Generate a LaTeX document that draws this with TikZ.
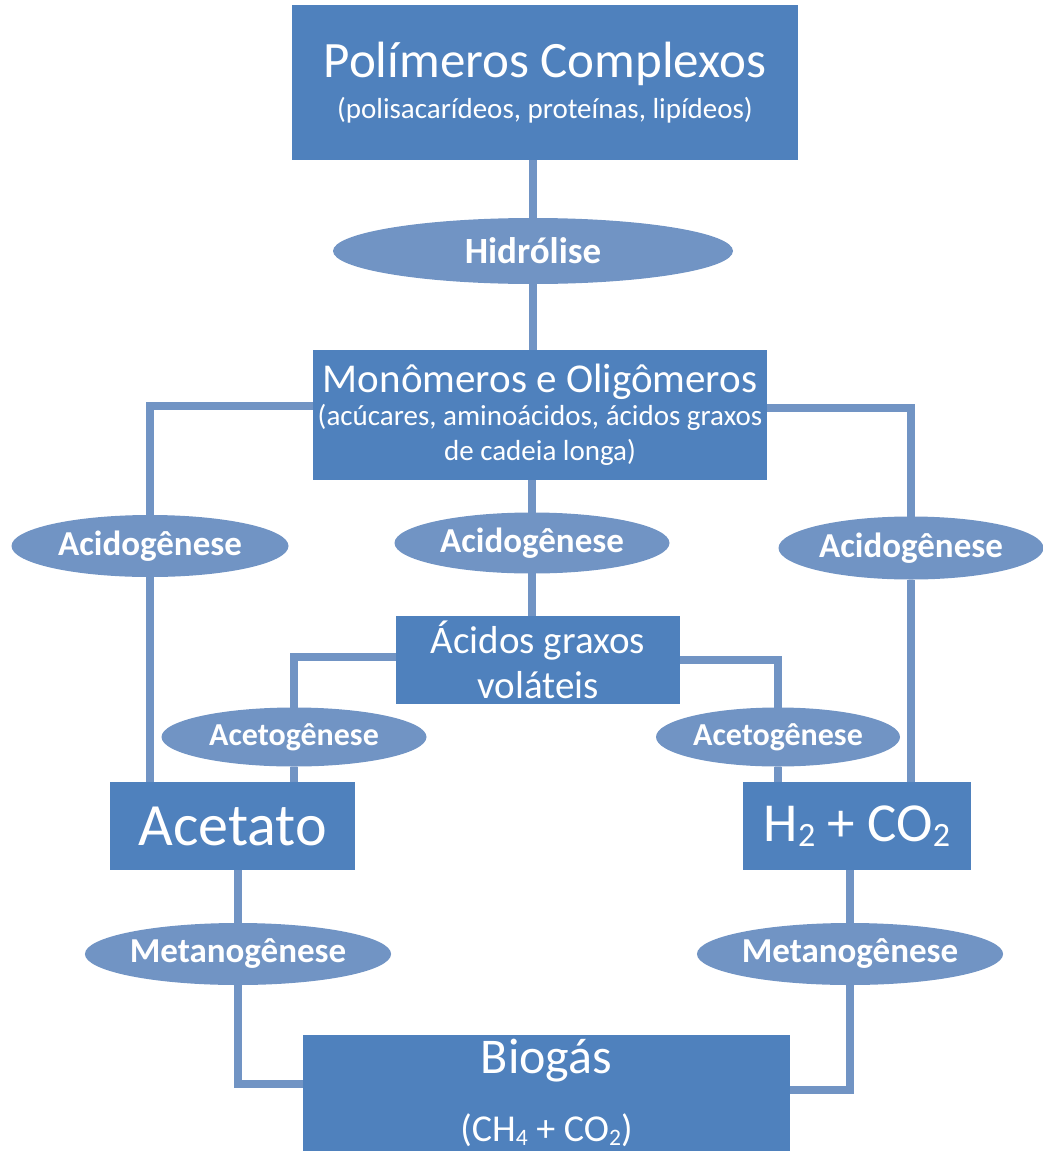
\documentclass[tikz,border=0pt]{standalone}
\usepackage{fontspec}
\setmainfont{Carlito}
\usepackage{xcolor}
\usetikzlibrary{shapes.geometric,backgrounds}
\definecolor{boxblue}{HTML}{4F81BD}
\definecolor{stepblue}{HTML}{7194C4}
\newcommand\chemsub[1]{\raisebox{-0.1em}{\scalebox{0.62}{#1}}}

\begin{document}
\begin{tikzpicture}[x=1pt, y=-1pt,
    every node/.style={text=white, inner sep=0pt, outer sep=0pt},
    stagebox/.style={rectangle, fill=boxblue, align=center},
    phase/.style={ellipse, fill=stepblue, font=\bfseries},
    link/.style={draw=stepblue, line width=8pt}]
    \useasboundingbox (0,0) rectangle (1043,1151);

    % Boxes
    \node[stagebox, minimum width=506, minimum height=155] (poly) at (545,82.5)
        {{\fontsize{51}{35}\selectfont Polímeros Complexos}\\[10pt]
         {\fontsize{29}{35}\selectfont (polisacarídeos, proteínas, lipídeos)}};
    \node[stagebox, minimum width=454, minimum height=130] (mono) at (540,415)
        {{\fontsize{41}{36}\selectfont Monômeros e Oligômeros}\\[4pt]
         {\fontsize{29}{34}\selectfont (acúcares, aminoácidos, ácidos graxos}\\[8pt]
         {\fontsize{29}{34}\selectfont de cadeia longa)}};
    \node[stagebox, minimum width=284, minimum height=88] (acidos) at (538,660)
        {\fontsize{39}{44}\selectfont Ácidos graxos\\[10pt] \fontsize{39}{44}\selectfont voláteis};
    \node[stagebox, minimum width=245, minimum height=88] (acet) at (232.5,826)
        {\fontsize{60}{60}\selectfont Acetato};
    \node[stagebox, minimum width=228, minimum height=88] (gas) at (857,826)
        {\fontsize{55}{60}\selectfont H\chemsub{2} + CO\chemsub{2}};
    \node[stagebox, minimum width=487, minimum height=116] (bio) at (546.5,1093)
        {{\fontsize{50}{67}\selectfont Biogás}\\[30pt]
         {\fontsize{38}{67}\selectfont (CH\chemsub{4} + CO\chemsub{2})}};

    % Steps
    \node[phase, minimum width=400, minimum height=66] (hidro) at (533,251)
        {\fontsize{37}{40}\selectfont Hidrólise};
    \node[phase, minimum width=277, minimum height=62] (acidL) at (150,546)
        {\fontsize{35}{40}\selectfont Acidogênese};
    \node[phase, minimum width=275, minimum height=61] (acidM) at (532,543)
        {\fontsize{35}{40}\selectfont Acidogênese};
    \node[phase, minimum width=265, minimum height=63] (acidR) at (911,548)
        {\fontsize{35}{40}\selectfont Acidogênese};
    \node[phase, minimum width=265, minimum height=59] (acetoL) at (294,737)
        {\fontsize{32}{40}\selectfont Acetogênese};
    \node[phase, minimum width=244, minimum height=59] (acetoR) at (778,737)
        {\fontsize{32}{40}\selectfont Acetogênese};
    \node[phase, minimum width=299, minimum height=62] (metL) at (238,954)
        {\fontsize{35}{40}\selectfont Metanogênese};
    \node[phase, minimum width=300, minimum height=62] (metR) at (850,954)
        {\fontsize{35}{40}\selectfont Metanogênese};

    % Connectors
    \begin{scope}[on background layer]
        \draw[link] (poly.south -| hidro) -- (mono.north -| hidro);
        \draw[link] ([yshift=9pt]mono.west) -| (acidL) -- (acidL |- acet.north);
        \draw[link] ([yshift=7pt]mono.east) -| (acidR) -- (acidR |- gas.north);
        \draw[link] (mono.south -| acidM) -- (acidos.north -| acidM);
        \draw[link] ([yshift=3pt]acidos.west) -| (acetoL) -- (acetoL |- acet.north);
        \draw[link] (acidos.east) -| (acetoR) -- (acetoR |- gas.north);
        \draw[link] (acet.south -| metL) -- (metL) |- ([yshift=9pt]bio.west);
        \draw[link] (gas.south -| metR) -- (metR) |- ([yshift=3pt]bio.east);
    \end{scope}
\end{tikzpicture}
\end{document}
